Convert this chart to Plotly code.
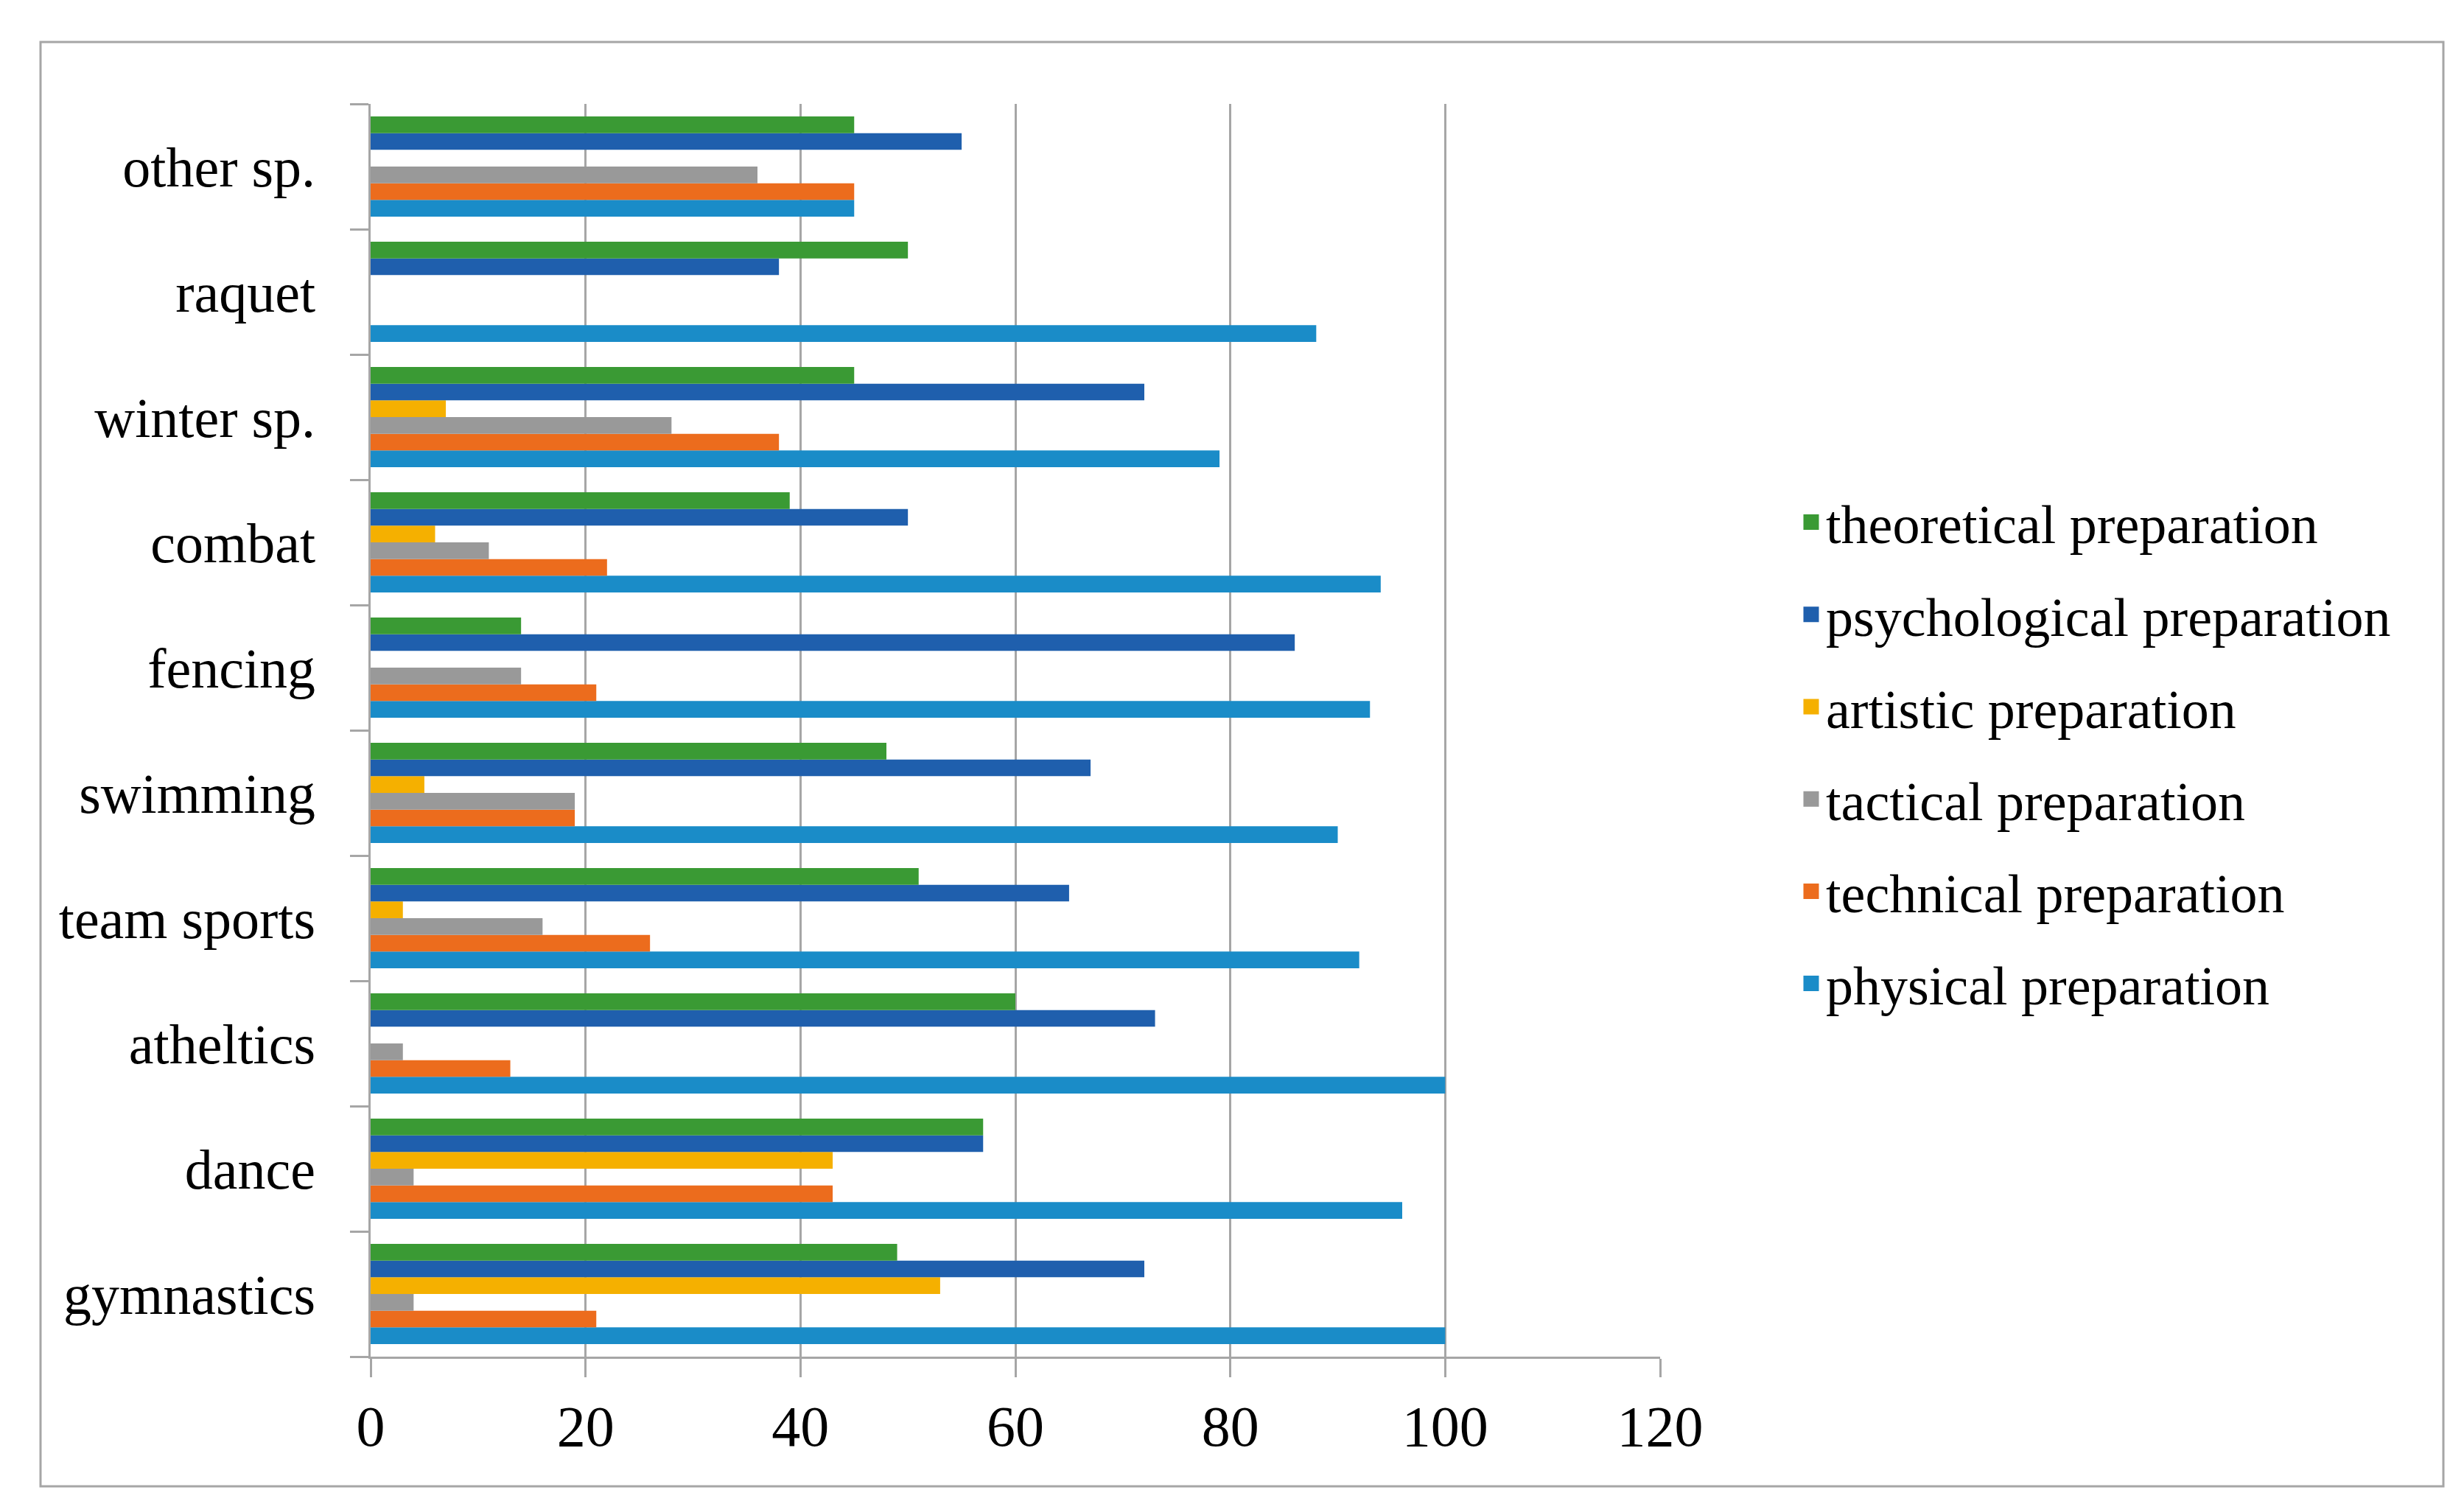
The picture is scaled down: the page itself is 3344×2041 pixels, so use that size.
import plotly.graph_objects as go

categories = ["gymnastics", "dance", "atheltics", "team sports", "swimming",
              "fencing", "combat", "winter sp.", "raquet", "other sp."]

physical = [100, 96, 100, 92, 90, 93, 94, 79, 88, 45]
technical = [21, 43, 13, 26, 19, 21, 22, 38, 0, 45]
tactical = [4, 4, 3, 16, 19, 14, 11, 28, 0, 36]
artistic = [53, 43, 0, 3, 5, 0, 6, 7, 0, 0]
psychological = [72, 57, 73, 65, 67, 86, 50, 72, 38, 55]
theoretical = [49, 57, 60, 51, 48, 14, 39, 45, 50, 45]

x_ticks = [0, 20, 40, 60, 80, 100, 120]

series = [
    ("physical preparation", physical, "#1a8cc8"),
    ("technical preparation", technical, "#ec6c1d"),
    ("tactical preparation", tactical, "#999999"),
    ("artistic preparation", artistic, "#f5b000"),
    ("psychological preparation", psychological, "#1f5fad"),
    ("theoretical preparation", theoretical, "#3a9a34"),
]

FONT = "Liberation Serif"
GRID = "#a6a6a6"

fig = go.Figure()
for name, vals, color in series:
    fig.add_trace(go.Bar(
        y=categories, x=vals, name=name, orientation="h",
        marker=dict(color=color, line=dict(width=0)),
        legendgroup=name, showlegend=False,
    ))

# legend entries (square swatches, drawn in the order of the reference legend)
for name, vals, color in reversed(series):
    fig.add_trace(go.Scatter(
        x=[None], y=[None], mode="markers", name=name,
        marker=dict(symbol="square", size=16, color=color,
                    line=dict(color=color, width=5)),
        legendgroup=name, showlegend=True, hoverinfo="skip",
    ))

W, H = 3344, 2041
L, R, T, B = 495, 1099, 133, 208
pw, ph = W - L - R, H - T - B

def px_x(v):
    return (v - L) / pw

def px_y(v):
    return (H - B - v) / ph

fig.update_layout(
    width=W, height=H,
    margin=dict(l=L, r=R, t=T, b=B),
    paper_bgcolor="white", plot_bgcolor="white",
    barmode="group", bargap=0.2, bargroupgap=0,
    font=dict(family=FONT, color="black", size=76),
    showlegend=True,
    legend=dict(
        traceorder="grouped", tracegroupgap=26,
        x=px_x(2430), xanchor="left",
        y=px_y(1014), yanchor="middle",
        font=dict(family=FONT, size=74, color="black"),
        bgcolor="rgba(0,0,0,0)",
    ),
    xaxis=dict(
        range=[0, 120], tickvals=x_ticks, ticktext=[str(v) for v in x_ticks],
        showgrid=True, gridcolor=GRID, gridwidth=2.5,
        showline=True, linecolor=GRID, linewidth=2.5,
        ticks="outside", ticklen=25, tickwidth=2.5, tickcolor=GRID,
        zeroline=False, ticklabelstandoff=0,
        tickfont=dict(family=FONT, size=78, color="black"),
        fixedrange=True,
    ),
    yaxis=dict(
        type="category", categoryorder="array", categoryarray=categories,
        showgrid=False,
        showline=True, linecolor=GRID, linewidth=2.5,
        ticks="outside", ticklen=25, tickwidth=2.5, tickcolor=GRID,
        tickson="boundaries", ticklabelstandoff=57,
        tickfont=dict(family=FONT, size=76, color="black"),
        fixedrange=True,
    ),
    shapes=[dict(
        type="rect", xref="paper", yref="paper",
        x0=px_x(47), x1=px_x(3308), y0=px_y(2009), y1=px_y(49),
        line=dict(color=GRID, width=3), fillcolor="rgba(0,0,0,0)",
        layer="below",
    )],
)

fig.write_html("out.html")
